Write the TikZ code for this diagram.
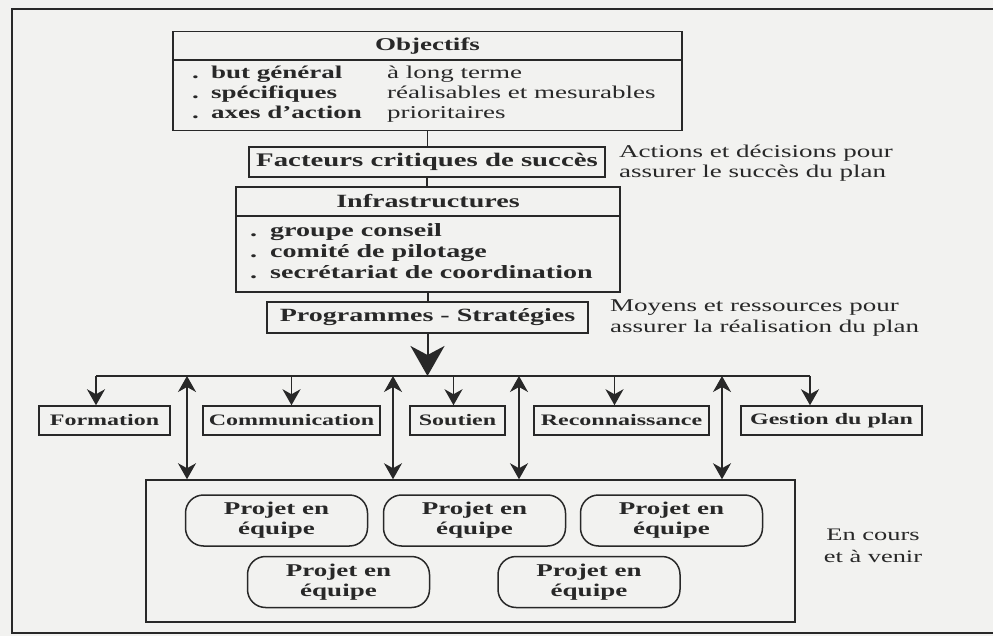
\documentclass[tikz,border=0pt]{standalone}
\usepackage{fontspec}
\setmainfont{Liberation Serif}[FakeStretch=1.5]
\usetikzlibrary{arrows.meta}
\definecolor{paper}{RGB}{242,242,240}
\definecolor{ink}{RGB}{40,40,40}

\begin{document}
\begin{tikzpicture}[x=1pt, y=-1pt,
    box/.style={draw=ink, line width=1.5pt, inner sep=0pt, text=ink},
    proj/.style={box, rounded corners=18pt, minimum width=182pt, minimum height=51pt,
        align=center, font=\fontsize{18}{20}\selectfont\bfseries},
    small/.style={box, minimum height=29pt, font=\fontsize{16}{18}\selectfont\bfseries},
    txt/.style={inner sep=0pt, text=ink, anchor=base west},
    big/.style={font=\fontsize{18}{20}\selectfont\bfseries},
    side/.style={txt, font=\fontsize{18}{20}\selectfont},
    line/.style={draw=ink, line width=1.4pt},
    tip/.style={line, -{Stealth[length=16pt, width=18pt, inset=5pt]}},
    dtip/.style={line, {Stealth[length=16pt, width=18pt, inset=5pt]}-{Stealth[length=16pt, width=18pt, inset=5pt]}},
    bigtip/.style={line, line width=2pt, -{Stealth[length=30pt, width=34pt, inset=9pt]}}]
    \useasboundingbox (0,0) rectangle (993,636);
    \fill[paper] (0,0) rectangle (993,636);
    \clip (0,0) rectangle (993,636);
    \draw[ink, line width=2.8pt] (12,9) rectangle (1010,633);

    % objectifs
    \node[box, minimum width=509pt, minimum height=99pt] (obj) at (427.5,81) {};
    \coordinate (objsep) at (0,60);
    \draw[line] (obj.west |- objsep) -- (obj.east |- objsep);
    \node[txt, big, anchor=center] (objtitle) at (427.5,46) {Objectifs};
    \foreach \y/\a/\b [count=\i] in {79/but général/à long terme,
        99/spécifiques/réalisables et mesurables, 119/axes d'action/prioritaires} {
        \node[txt, big] (ob\i) at (192,\y) {.};
        \node[txt, big] (oa\i) at (211,\y) {\a};
        \node[txt, font=\fontsize{18}{20}\selectfont] (oc\i) at (387,\y) {\b};
    }

    \node[box, minimum width=356pt, minimum height=30pt, font=\fontsize{19.2}{21}\selectfont\bfseries]
        (fcs) at (427,162) {Facteurs critiques de succès};
    \node[side] (act1) at (619,158) {Actions et décisions pour};
    \node[side] (act2) at (619,178) {assurer le succès du plan};

    % infrastructures
    \node[box, minimum width=384pt, minimum height=105pt] (infra) at (428,239.5) {};
    \coordinate (infsep) at (0,216);
    \draw[line] (infra.west |- infsep) -- (infra.east |- infsep);
    \node[txt, anchor=center, font=\fontsize{18.7}{20}\selectfont\bfseries] (inftitle) at (428,201) {Infrastructures};
    \foreach \y/\a [count=\i] in {237/groupe conseil, 258/comité de pilotage, 279/secrétariat de coordination} {
        \node[txt, font=\fontsize{18.7}{20}\selectfont\bfseries] (ib\i) at (250,\y) {.};
        \node[txt, font=\fontsize{18.7}{20}\selectfont\bfseries] (ia\i) at (270,\y) {\a};
    }

    \node[box, minimum width=321pt, minimum height=31pt, font=\fontsize{18.7}{20}\selectfont\bfseries]
        (prog) at (427.5,317.5) {Programmes - Stratégies};
    \node[side] (moy1) at (610,312) {Moyens et ressources pour};
    \node[side] (moy2) at (610,332) {assurer la réalisation du plan};

    \draw[line] (obj.south) -- (obj.south |- fcs.north);
    \draw[line] (fcs.south) -- (fcs.south |- infra.north);
    \draw[line] (infra.south) -- (infra.south |- prog.north);

    % programmes
    \node[small, minimum width=131pt] (form) at (104.5,420.5) {Formation};
    \node[small, minimum width=177pt] (comm) at (291.5,420.5) {Communication};
    \node[small, minimum width=95pt] (sout) at (457.5,420.5) {Soutien};
    \node[small, minimum width=175pt] (reco) at (621.5,420.5) {Reconnaissance};
    \node[small, minimum width=181pt] (gest) at (831.5,420.5) {Gestion du plan};

    \coordinate (bus) at (428,376);
    \coordinate (busl) at (96,376);
    \coordinate (busr) at (810,376);
    \draw[bigtip] (prog.south) -- (prog.south |- bus);
    \draw[line] (busl) -- (busr);
    \draw[tip] (busl) -- (busl |- form.north);
    \draw[tip] (comm.north |- bus) -- (comm.north);
    \draw[tip] ([xshift=-4pt]sout.north |- bus) -- ([xshift=-4pt]sout.north);
    \draw[tip] ([xshift=-7pt]reco.north |- bus) -- ([xshift=-7pt]reco.north);
    \draw[tip] (busr) -- (busr |- gest.north);

    % projets
    \node[box, minimum width=649pt, minimum height=142pt] (projets) at (470.5,551) {};
    \foreach \x [count=\i] in {187,393,519,722} {
        \coordinate (up\i) at (\x,376);
        \draw[dtip] (up\i) -- (up\i |- projets.north);
    }
    \node[proj] (p1) at (276.5,520.5) {Projet en\\équipe};
    \node[proj] (p2) at (474.5,520.5) {Projet en\\équipe};
    \node[proj] (p3) at (671.5,520.5) {Projet en\\équipe};
    \node[proj] (p4) at (338.5,582) {Projet en\\équipe};
    \node[proj] (p5) at (589,582) {Projet en\\équipe};
    \node[txt, anchor=center, align=center, font=\fontsize{17.6}{22}\selectfont] (cours) at (873,546) {En cours\\et à venir};
\end{tikzpicture}
\end{document}
